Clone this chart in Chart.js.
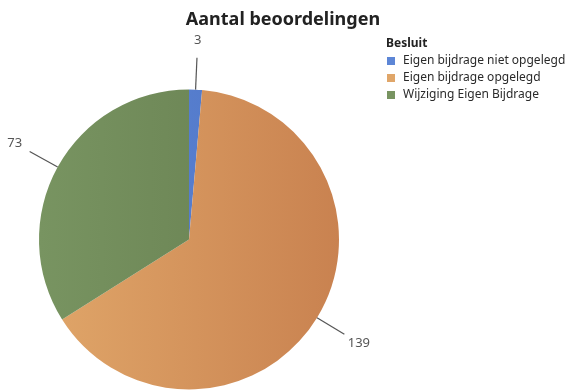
<!DOCTYPE html>
<html>
<head>
<meta charset="utf-8">
<script src="https://cdn.jsdelivr.net/npm/chart.js@4/dist/chart.umd.min.js"></script>
<style>
  html, body { margin: 0; padding: 0; background: #fff; }
  #wrap { position: relative; width: 567px; height: 390px; }
</style>
</head>
<body>
<div id="wrap"><canvas id="myPieCanvas" width="567" height="390"></canvas></div>
<script>
// data
const chartTitle = "Aantal beoordelingen";
const legendTitle = "Besluit";
const labels = ["Eigen bijdrage niet opgelegd", "Eigen bijdrage opgelegd", "Wijziging Eigen Bijdrage"];
const counts = [3, 139, 73];
// light (left) / dark (right) shade per slice
const lightColors = ["#5d86d6", "#e0a669", "#789461"];
const darkColors = ["#4e74c4", "#c98250", "#657c4e"];

const fontName = "'Noto Sans', 'Open Sans', sans-serif";

function sliceColor(context) {
  const chart = context.chart;
  const area = chart.chartArea;
  if (!area) return lightColors[context.dataIndex];
  const g = chart.ctx.createLinearGradient(area.left, 0, area.right, 0);
  g.addColorStop(0, lightColors[context.dataIndex]);
  g.addColorStop(1, darkColors[context.dataIndex]);
  return g;
}

// draws the title, legend and outside labels with leader lines
const extrasPlugin = {
  id: "extras",
  afterDraw(chart) {
    const ctx = chart.ctx;
    ctx.save();

    // title
    ctx.fillStyle = "#222";
    ctx.font = "bold 18px " + fontName;
    ctx.textAlign = "center";
    ctx.textBaseline = "middle";
    ctx.fillText(chartTitle, 283, 20);

    // legend
    ctx.textAlign = "left";
    ctx.font = "bold 12px " + fontName;
    ctx.fillStyle = "#222";
    ctx.fillText(legendTitle, 386, 44);
    ctx.font = "12px " + fontName;
    labels.forEach((lab, i) => {
      const y = 61 + i * 17;
      ctx.fillStyle = lightColors[i];
      ctx.fillRect(387, y - 4, 8, 8);
      ctx.fillStyle = "#2a2a2a";
      ctx.fillText(lab, 403, y);
    });

    // value labels
    const meta = chart.getDatasetMeta(0);
    ctx.strokeStyle = "#555";
    ctx.lineWidth = 1.2;
    ctx.fillStyle = "#555";
    ctx.font = "13px " + fontName;
    ctx.textAlign = "center";
    meta.data.forEach((arc, i) => {
      const p = arc.getProps(["x", "y", "startAngle", "endAngle", "outerRadius"], true);
      const mid = (p.startAngle + p.endAngle) / 2;
      const cx = Math.cos(mid), cy = Math.sin(mid);
      ctx.beginPath();
      ctx.moveTo(p.x + cx * p.outerRadius, p.y + cy * p.outerRadius);
      ctx.lineTo(p.x + cx * (p.outerRadius + 32), p.y + cy * (p.outerRadius + 32));
      ctx.stroke();
      ctx.fillText(String(counts[i]), p.x + cx * (p.outerRadius + 49), p.y + cy * (p.outerRadius + 49));
    });
    ctx.restore();
  }
};

new Chart(document.getElementById("myPieCanvas"), {
  type: "pie",
  data: {
    labels: labels,
    datasets: [
      {
        label: legendTitle,
        data: counts,
        backgroundColor: sliceColor,
        borderWidth: 0,
      },
    ],
  },
  options: {
    responsive: false,
    animation: false,
    layout: {
      padding: { left: 39, right: 228, top: 89, bottom: 0 },
    },
    plugins: {
      legend: { display: false },
      title: { display: false },
      tooltip: { enabled: false },
    },
  },
  plugins: [extrasPlugin],
});
</script>
</body>
</html>
